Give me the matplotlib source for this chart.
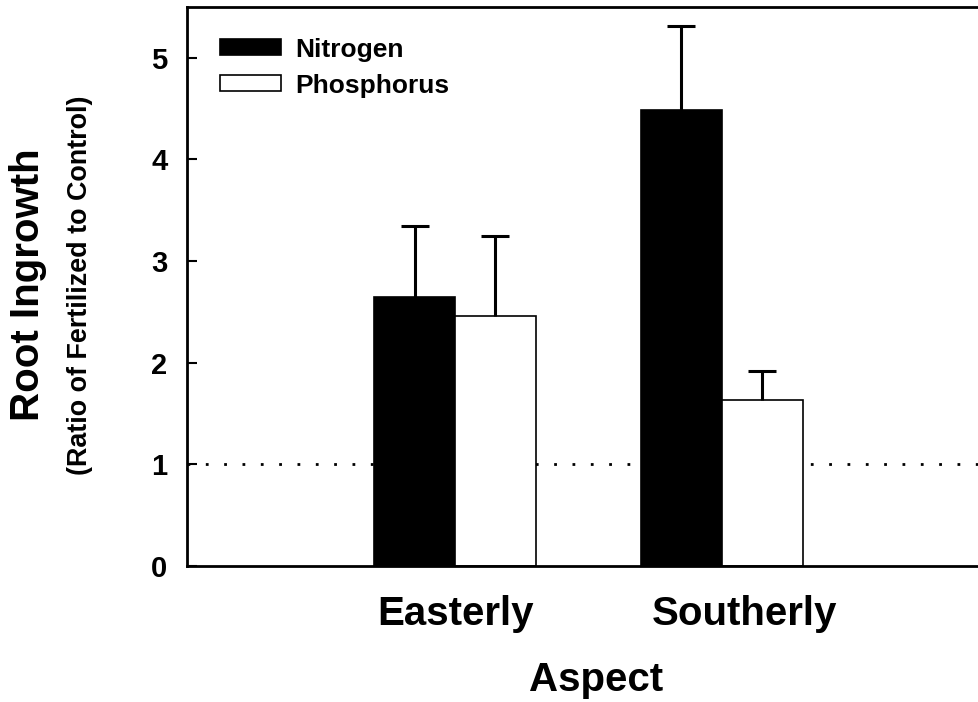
import numpy as np
import matplotlib
matplotlib.use('Agg')
import matplotlib.pyplot as plt
import matplotlib.transforms as mtransforms

plt.rcParams['font.family'] = ['Liberation Sans', 'DejaVu Sans']

# datos
aspectos   = ['Easterly', 'Southerly']
nitrogeno  = [2.65, 4.49]
fosforo    = [2.46, 1.635]
err_nitro  = [0.70, 0.82]
err_fosf   = [0.79, 0.285]
referencia = 1.0

fig = plt.figure(figsize=(9.79, 7.02), dpi=100)
ax = fig.add_axes([187 / 979, 136 / 702, 792 / 979, 559 / 702])

x = np.arange(len(aspectos))
ancho = 0.303

# linea punteada de referencia (ratio = 1)
ax.axhline(referencia, color='black', linewidth=2, linestyle=(0, (1, 5.6)), zorder=1)

ax.bar(x - ancho / 2, nitrogeno, ancho, color='black', edgecolor='black',
       linewidth=1.2, label='Nitrogen', zorder=2)
ax.bar(x + ancho / 2, fosforo, ancho, color='white', edgecolor='black',
       linewidth=1.2, label='Phosphorus', zorder=2)

# barras de error solo hacia arriba (sin tapa inferior)
for centros, alturas, errores in [(x - ancho / 2, nitrogeno, err_nitro),
                                  (x + ancho / 2, fosforo, err_fosf)]:
    _, tapas, _ = ax.errorbar(centros, alturas, yerr=[np.zeros(len(x)), errores],
                              fmt='none', ecolor='black', elinewidth=2.2,
                              capsize=10, capthick=2.2, zorder=3)
    tapas[0].set_visible(False)

ax.set_xlim(-1.004, 1.963)
ax.set_ylim(0, 5.5)
ax.set_yticks(range(0, 6))
ax.set_xticks(x)
ax.set_xticklabels(aspectos, fontsize=29, fontweight='bold')
ax.tick_params(axis='x', length=0, pad=21)
ax.tick_params(axis='y', direction='in', length=7, width=1.5, pad=14,
               labelsize=21)
for lbl in ax.get_yticklabels():
    lbl.set_fontweight('bold')

# la etiqueta "Southerly" esta algo corrida a la derecha en el original
desplazo = mtransforms.ScaledTranslation(23 / 100, 0, fig.dpi_scale_trans)
etq = ax.get_xticklabels()[1]
etq.set_transform(etq.get_transform() + desplazo)

ax.spines['right'].set_visible(False)
for lado in ['left', 'bottom', 'top']:
    ax.spines[lado].set_linewidth(2)

fig.text(596 / 979, 1 - 680 / 702, 'Aspect', fontsize=29, fontweight='bold',
         ha='center', va='center')
fig.text(28 / 979, 1 - 285 / 702, 'Root Ingrowth', fontsize=29, fontweight='bold',
         rotation=90, ha='center', va='center')
fig.text(80 / 979, 1 - 285 / 702, '(Ratio of Fertilized to Control)', fontsize=19.4,
         fontweight='bold', rotation=90, ha='center', va='center')

ax.legend(loc='upper left', bbox_to_anchor=(0.0417, 0.945), frameon=False,
          prop={'size': 19, 'weight': 'bold'}, handlelength=2.3, handleheight=0.55,
          handletextpad=0.55, labelspacing=0.45, borderpad=0, borderaxespad=0)

fig.savefig('out.png', dpi=100)
plt.close(fig)
